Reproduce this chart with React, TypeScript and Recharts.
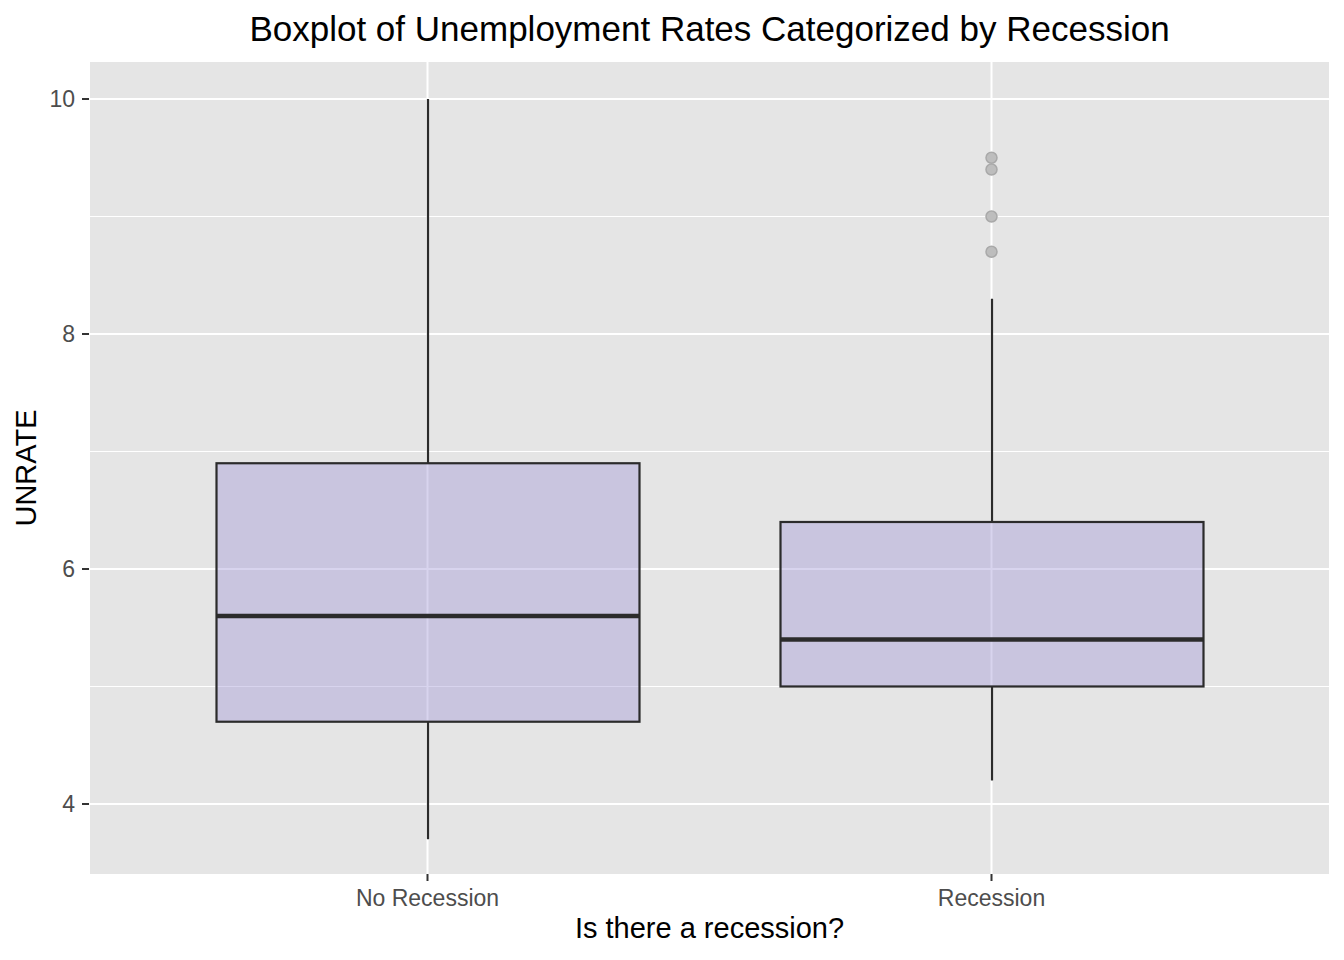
import React from "react";
import {
  ComposedChart,
  Bar,
  Scatter,
  XAxis,
  YAxis,
  CartesianGrid,
} from "recharts";

// boxplot stats
const categories = ["No Recession", "Recession"];
const whiskerLow = [3.7, 4.2];
const lowerQuartile = [4.7, 5.0];
const medians = [5.6, 5.4];
const upperQuartile = [6.9, 6.4];
const whiskerHigh = [10.0, 8.3];

const outlierCategory = "Recession";
const outlierValues = [8.7, 9.0, 9.4, 9.5];

const yTicks = [4, 6, 8, 10];
const yMinorTicks = [5, 7, 9];

const data = categories.map((cat, i) => ({
  cat,
  range: [whiskerLow[i], whiskerHigh[i]],
  q1: lowerQuartile[i],
  med: medians[i],
  q3: upperQuartile[i],
}));

const outliers = outlierValues.map((v) => ({ cat: outlierCategory, v }));

const FONT = "'Liberation Sans', Arial, Helvetica, sans-serif";
const INK = "#2b2b2b";

function BoxShape(props: any) {
  const { x, y, width, height, payload } = props;
  const [lo, hi] = payload.range;
  // linear map inside the bar's own pixel range (comes from the y scale)
  const py = (v: number) => y + ((hi - v) / (hi - lo)) * height;
  const cx = x + width / 2;
  const top = py(payload.q3);
  const bottom = py(payload.q1);
  return (
    <g>
      <line x1={cx} x2={cx} y1={py(hi)} y2={top} stroke={INK} strokeWidth={2.2} />
      <line x1={cx} x2={cx} y1={bottom} y2={py(lo)} stroke={INK} strokeWidth={2.2} />
      <rect
        x={x}
        y={top}
        width={width}
        height={bottom - top}
        fill="#A299D7"
        fillOpacity={0.42}
        stroke={INK}
        strokeWidth={2.2}
      />
      <line
        x1={x}
        x2={x + width}
        y1={py(payload.med)}
        y2={py(payload.med)}
        stroke={INK}
        strokeWidth={4.4}
      />
    </g>
  );
}

function OutlierDot(props: any) {
  const { cx, cy } = props;
  return (
    <circle cx={cx} cy={cy} r={5.5} fill="#bdbdbd" stroke="#a9a9a9" strokeWidth={1.5} />
  );
}

export default function App() {
  return (
    <div
      style={{
        position: "absolute",
        left: 0,
        top: 0,
        width: 1344,
        height: 960,
        background: "#ffffff",
        fontFamily: FONT,
      }}
    >
      <div
        style={{
          position: "absolute",
          left: 89,
          width: 1241,
          top: 9,
          textAlign: "center",
          fontSize: 35,
          color: "#000",
        }}
      >
        Boxplot of Unemployment Rates Categorized by Recession
      </div>
      <div
        style={{
          position: "absolute",
          left: 89,
          width: 1241,
          top: 912,
          textAlign: "center",
          fontSize: 29,
          color: "#000",
        }}
      >
        Is there a recession?
      </div>
      <div
        style={{
          position: "absolute",
          left: 26,
          top: 468,
          transform: "translate(-50%, -50%) rotate(-90deg)",
          fontSize: 29,
          color: "#000",
          whiteSpace: "nowrap",
        }}
      >
        UNRATE
      </div>
      <ComposedChart
        width={1344}
        height={960}
        data={data}
        margin={{ top: 62, right: 14, bottom: 56, left: 0 }}
        style={{ position: "absolute", left: 0, top: 0 }}
      >
        <CartesianGrid
          fill="#E5E5E5"
          stroke="#ffffff"
          strokeWidth={1}
          vertical={false}
          horizontalValues={yMinorTicks}
        />
        <CartesianGrid stroke="#ffffff" strokeWidth={2} horizontalValues={yTicks} />
        <XAxis
          dataKey="cat"
          type="category"
          height={30}
          allowDuplicatedCategory={false}
          padding={{ left: 56.5, right: 56.5 }}
          axisLine={false}
          tickSize={7}
          tickMargin={9}
          tickLine={{ stroke: "#333333", strokeWidth: 2 }}
          tick={{ fill: "#4d4d4d", fontSize: 23, fontFamily: FONT }}
        />
        <YAxis
          type="number"
          domain={[3.404, 10.315]}
          ticks={yTicks}
          allowDataOverflow
          width={89}
          axisLine={false}
          tickSize={7}
          tickMargin={7}
          tickLine={{ stroke: "#333333", strokeWidth: 2 }}
          tick={{ fill: "#4d4d4d", fontSize: 23, fontFamily: FONT }}
        />
        <Bar dataKey="range" barSize={423} shape={<BoxShape />} isAnimationActive={false} />
        <Scatter
          data={outliers}
          dataKey="v"
          shape={<OutlierDot />}
          isAnimationActive={false}
        />
      </ComposedChart>
    </div>
  );
}
